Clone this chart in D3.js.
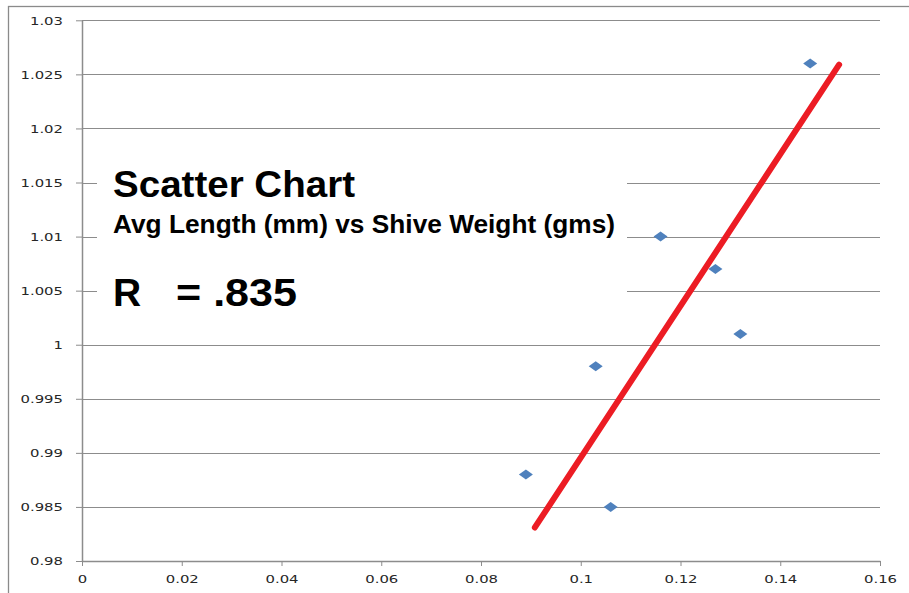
<!DOCTYPE html>
<html>
<head>
<meta charset="utf-8">
<script src="https://cdn.jsdelivr.net/npm/d3@7"></script>
<style>
  html, body { margin: 0; padding: 0; background: #fff; }
  svg { display: block; }
</style>
</head>
<body>
<div id="chart"></div>
<script>
// ---- data ----
const shiveWeight = [0.146, 0.116, 0.127, 0.132, 0.103, 0.089, 0.106];
const avgLength   = [1.026, 1.010, 1.007, 1.001, 0.998, 0.988, 0.985];
const trendX = [0.0908, 0.1518];
const trendY = [0.9831, 1.0259];
const xTicks = [0, 0.02, 0.04, 0.06, 0.08, 0.10, 0.12, 0.14, 0.16];
const xTickLabels = ["0", "0.02", "0.04", "0.06", "0.08", "0.1", "0.12", "0.14", "0.16"];
const yTicks = [0.98, 0.985, 0.99, 0.995, 1.0, 1.005, 1.01, 1.015, 1.02, 1.025, 1.03];
const yTickLabels = ["0.98", "0.985", "0.99", "0.995", "1", "1.005", "1.01", "1.015", "1.02", "1.025", "1.03"];
const titleText = "Scatter Chart";
const subtitleText = "Avg Length (mm) vs Shive Weight (gms)";
const rLabel = "R";
const rValue = "= .835";

// ---- layout ----
const W = 909, H = 593;
const plotLeft = 82, plotRight = 880, plotTop = 20.3, plotBottom = 561;

const svg = d3.select("#chart").append("svg").attr("width", W).attr("height", H);

// outer frame (top and left edges visible)
svg.append("rect").attr("x", 8.5).attr("y", 6.5).attr("width", W + 20).attr("height", H + 20)
  .attr("fill", "none").attr("stroke", "#8a8a8a").attr("stroke-width", 1.3);

const x = d3.scaleLinear().domain([0, 0.16]).range([plotLeft, plotRight]);
const y = d3.scaleLinear().domain([0.98, 1.03]).range([plotBottom, plotTop]);

// gridlines
svg.append("g").selectAll("line").data(yTicks.slice(1)).join("line")
  .attr("x1", plotLeft).attr("x2", plotRight)
  .attr("y1", d => Math.round(y(d)) + 0.5).attr("y2", d => Math.round(y(d)) + 0.5)
  .attr("stroke", "#8c8c8c").attr("stroke-width", 1);

// y axis
const yAxis = svg.append("g").attr("transform", `translate(${plotLeft},0)`)
  .call(d3.axisLeft(y).tickValues(yTicks).tickFormat((d, i) => yTickLabels[i]).tickSize(6).tickSizeOuter(0));
yAxis.select(".domain").attr("stroke", "#8c8c8c").attr("stroke-width", 1.5);
yAxis.selectAll(".tick line").attr("stroke", "#8c8c8c");
yAxis.selectAll(".tick text")
  .attr("x", 0).attr("dy", "0.35em")
  .attr("transform", "translate(-19,0) scale(1.35,1)")
  .attr("fill", "#262626").attr("font-family", "DejaVu Sans").attr("font-size", 11)
  .attr("text-anchor", "end");

// x axis
const xAxis = svg.append("g").attr("transform", `translate(0,${plotBottom})`)
  .call(d3.axisBottom(x).tickValues(xTicks).tickFormat((d, i) => xTickLabels[i]).tickSize(5).tickSizeOuter(0));
xAxis.select(".domain").attr("stroke", "#8c8c8c").attr("stroke-width", 1.5);
xAxis.selectAll(".tick line").attr("stroke", "#8c8c8c");
xAxis.selectAll(".tick text")
  .attr("y", 22).attr("dy", 0)
  .attr("transform", "scale(1.35,1)")
  .attr("fill", "#262626").attr("font-family", "DejaVu Sans").attr("font-size", 11)
  .attr("text-anchor", "middle");

// white box behind title
svg.append("rect").attr("x", 97).attr("y", 148).attr("width", 530).attr("height", 174).attr("fill", "#fff");

// title texts
const tg = svg.append("g").attr("font-family", "Liberation Sans, Arial, sans-serif").attr("font-weight", "bold").attr("fill", "#000");
tg.append("text").attr("x", 113).attr("y", 197).attr("font-size", 37)
  .attr("textLength", 242).attr("lengthAdjust", "spacingAndGlyphs").text(titleText);
tg.append("text").attr("x", 113).attr("y", 233).attr("font-size", 26)
  .attr("textLength", 502).attr("lengthAdjust", "spacingAndGlyphs").text(subtitleText);
tg.append("text").attr("x", 113).attr("y", 306).attr("font-size", 39).text(rLabel);
tg.append("text").attr("x", 176).attr("y", 306).attr("font-size", 39)
  .attr("textLength", 121).attr("lengthAdjust", "spacingAndGlyphs").text(rValue);

// trend line
svg.append("path")
  .datum(trendX.map((d, i) => [d, trendY[i]]))
  .attr("d", d3.line().x(d => x(d[0])).y(d => y(d[1])))
  .attr("fill", "none").attr("stroke", "#ec1c24").attr("stroke-width", 6).attr("stroke-linecap", "round");

// points
const pts = shiveWeight.map((d, i) => [d, avgLength[i]]);
svg.append("g").selectAll("path").data(pts).join("path")
  .attr("transform", d => `translate(${x(d[0])},${y(d[1])})`)
  .attr("d", "M0,-5 L7,0 L0,5 L-7,0 Z")
  .attr("fill", "#4f81bd");
</script>
</body>
</html>
